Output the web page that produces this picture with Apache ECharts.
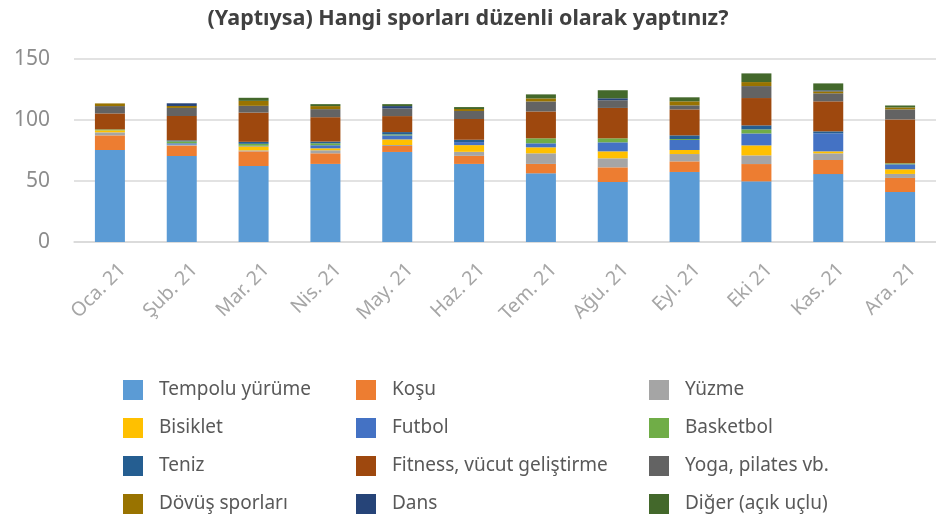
<!DOCTYPE html>
<html>
<head>
<meta charset="utf-8">
<script src="https://cdn.jsdelivr.net/npm/echarts@6/dist/echarts.min.js"></script>
<style>
  html, body { margin: 0; padding: 0; background: #fff; }
  #myChart { width: 936px; height: 514px; }
</style>
</head>
<body>
<div id="myChart"></div>
<script>
  var months = ['Oca. 21', 'Şub. 21', 'Mar. 21', 'Nis. 21', 'May. 21', 'Haz. 21', 'Tem. 21', 'Ağu. 21', 'Eyl. 21', 'Eki 21', 'Kas. 21', 'Ara. 21']

  var tempolu = [75.4, 70.5, 62.3, 64, 73.8, 64, 56.3, 49.2, 57.4, 49.7, 55.7, 41]
  var kosu = [12, 8.5, 12, 8.7, 4.9, 6.6, 7.7, 12, 8.7, 14.2, 11.5, 11.5]
  var yuzme = [2.5, 0.8, 0.8, 2.5, 0.8, 3.3, 8.7, 7.4, 6, 7.1, 5.5, 3.3]
  var bisiklet = [1.6, 0, 3.3, 1.6, 4.6, 5.5, 4.9, 5.7, 3.3, 8.2, 1.6, 3.8]
  var futbol = [0, 1.1, 0.5, 2.5, 3.3, 2.5, 3.3, 7.4, 8.2, 9.8, 14.8, 4.1]
  var basketbol = [0.8, 1.6, 1.6, 1.6, 0.8, 0, 4.1, 3.3, 0.8, 3.3, 0, 0.8]
  var teniz = [0, 0.8, 1.6, 1.4, 1.9, 1.9, 0, 0, 3, 3.3, 1.6, 0]
  var fitness = [13.1, 20, 24, 20, 13.1, 17, 22, 24.9, 21.3, 22.4, 24.6, 36]
  var yoga = [6, 6.6, 5.5, 6.6, 6.3, 6.6, 8.2, 6.3, 3.3, 9.8, 6.6, 8.2]
  var dovus = [2.2, 1.6, 4.1, 2.5, 0, 1.6, 2.5, 0, 3.3, 3.3, 1.6, 1.6]
  var dans = [0, 2.2, 0, 0, 1.9, 0, 0, 1.6, 0, 0, 0.8, 0]
  var diger = [0, 0, 2.5, 1.6, 1.6, 1.6, 3.3, 6.6, 3.3, 7.1, 5.7, 1.6]

  var seriesDefs = [
    { name: 'Tempolu yürüme', data: tempolu, color: '#5B9BD5' },
    { name: 'Koşu', data: kosu, color: '#ED7D31' },
    { name: 'Yüzme', data: yuzme, color: '#A5A5A5' },
    { name: 'Bisiklet', data: bisiklet, color: '#FFC000' },
    { name: 'Futbol', data: futbol, color: '#4472C4' },
    { name: 'Basketbol', data: basketbol, color: '#70AD47' },
    { name: 'Teniz', data: teniz, color: '#255E91' },
    { name: 'Fitness, vücut geliştirme', data: fitness, color: '#9E480E' },
    { name: 'Yoga, pilates vb.', data: yoga, color: '#636363' },
    { name: 'Dövüş sporları', data: dovus, color: '#997300' },
    { name: 'Dans', data: dans, color: '#264478' },
    { name: 'Diğer (açık uçlu)', data: diger, color: '#43682B' }
  ]

  var font = 'Noto Sans'

  // legend: 3 columns, 4 rows
  function legendCol (left, names) {
    return {
      orient: 'vertical',
      left: left,
      top: 380,
      padding: 0,
      itemWidth: 20,
      itemHeight: 20,
      itemGap: 18,
      icon: 'rect',
      textStyle: { fontFamily: font, fontSize: 19, color: '#595959', padding: [0, 0, 0, 11] },
      data: names
    }
  }

  var myChart = echarts.init(document.getElementById('myChart'))
  myChart.setOption({
    animation: false,
    title: {
      text: '(Yaptıysa) Hangi sporları düzenli olarak yaptınız?',
      left: 'center',
      top: 3,
      textStyle: { fontFamily: font, fontSize: 21.5, fontWeight: 'bold', color: '#404040' }
    },
    grid: { left: 74, top: 59, width: 870, height: 183 },
    legend: [
      legendCol(123, ['Tempolu yürüme', 'Bisiklet', 'Teniz', 'Dövüş sporları']),
      legendCol(356, ['Koşu', 'Futbol', 'Fitness, vücut geliştirme', 'Dans']),
      legendCol(649, ['Yüzme', 'Basketbol', 'Yoga, pilates vb.', 'Diğer (açık uçlu)'])
    ],
    xAxis: {
      type: 'category',
      data: months,
      axisLine: { lineStyle: { color: '#d9d9d9', width: 1.5 } },
      axisTick: { show: false },
      axisLabel: {
        rotate: 45,
        margin: 12,
        verticalAlign: 'top',
        lineHeight: 36,
        fontFamily: font,
        fontSize: 19.5,
        color: '#a6a6a6'
      }
    },
    yAxis: {
      type: 'value',
      min: 0,
      max: 150,
      interval: 50,
      axisLine: { show: false },
      axisTick: { show: false },
      splitLine: { lineStyle: { color: '#d9d9d9', width: 1.5 } },
      axisLabel: { margin: 24, fontFamily: font, fontSize: 21, color: '#8c8c8c' }
    },
    series: seriesDefs.map(function (s) {
      return {
        name: s.name,
        type: 'bar',
        stack: 'total',
        barWidth: 30,
        itemStyle: { color: s.color },
        data: s.data
      }
    })
  })
</script>
</body>
</html>
